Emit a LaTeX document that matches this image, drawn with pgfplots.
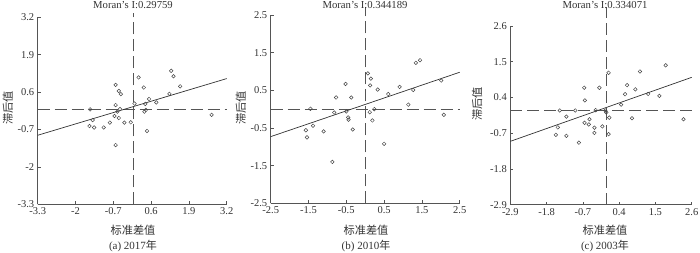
\documentclass[border=0pt]{standalone}
\usepackage{pgfplots}
\pgfplotsset{compat=1.18}
\usepackage{fontspec}
\setmainfont{Liberation Serif}
\newfontfamily\cjk{Noto Sans CJK SC}
\definecolor{axc}{HTML}{555555}
\definecolor{txc}{HTML}{333333}
\definecolor{mkc}{HTML}{444444}
\pgfplotsset{
  moran/.style={
    scale only axis, anchor=south west,
    axis x line*=bottom, axis y line*=left,
    axis line style={axc, line width=0.6bp},
    tick align=inside, major tick length=3bp,
    tick style={axc, line width=0.6bp},
    ticklabel style={font=\fontsize{10.5bp}{12bp}\selectfont, text=txc},
    xtick pos=bottom, ytick pos=left,
    clip=false,
  },
  pts/.style={only marks, mark=o, mark size=1.8bp, mark options={mkc, line width=0.5bp}},
  reg/.style={txc, line width=0.7bp, no marks},
  dsh/.style={axc, line width=0.8bp, dash pattern=on 12bp off 5bp, no marks},
}
\begin{document}
\begin{tikzpicture}[x=1bp,y=1bp]
\useasboundingbox (0,0) rectangle (700,252);
% ---------------- (a) 2017
\begin{axis}[moran, at={(37.7bp,47.7bp)}, width=189bp, height=187bp,
  xmin=-3.3, xmax=3.2, ymin=-3.3, ymax=3.2,
  xtick={-3.3,-2,-0.7,0.6,1.9,3.2}, xticklabels={-3.3,-2,-0.7,0.6,1.9,3.2},
  ytick={-3.3,-2,-0.7,0.6,1.9,3.2}, yticklabels={-3.3,-2,-0.7,0.6,1.9,3.2}]
\addplot[dsh] coordinates {(-3.3,0) (3.2,0)};
\addplot[dsh] coordinates {(0,-3.3) (0,3.35)};
\addplot[reg] coordinates {(-3.3,-0.90) (3.2,1.07)};
\addplot[pts] coordinates {
(-1.50,0.00) (-1.41,-0.37) (-1.52,-0.58) (-1.36,-0.63) (-1.03,-0.63)
(-0.82,-0.46) (-0.62,0.85) (-0.62,0.15) (-0.66,-0.23) (-0.56,-0.08)
(-0.51,0.64) (-0.44,0.53) (-0.47,0.01) (-0.51,-0.30) (-0.32,-0.46)
(-0.10,-0.45) (-0.62,-1.24) (0.03,0.20) (0.17,1.11) (0.35,0.76)
(0.40,0.19) (0.42,-0.02) (0.37,-0.08) (0.46,-0.75) (0.53,0.36)
(0.78,0.24) (1.23,0.54) (1.29,1.34) (1.37,1.15) (1.60,0.80) (2.68,-0.19)};
\end{axis}
% ---------------- (b) 2010
\begin{axis}[moran, at={(270.7bp,48.7bp)}, width=189bp, height=188.3bp,
  xmin=-2.5, xmax=2.5, ymin=-2.5, ymax=2.5,
  xtick={-2.5,-1.5,-0.5,0.5,1.5,2.5}, xticklabels={-2.5,-1.5,-0.5,0.5,1.5,2.5},
  ytick={-2.5,-1.5,-0.5,0.5,1.5,2.5}, yticklabels={-2.5,-1.5,-0.5,0.5,1.5,2.5}]
\addplot[dsh] coordinates {(-2.5,0) (2.5,0)};
\addplot[dsh] coordinates {(0,-2.5) (0,2.72)};
\addplot[reg] coordinates {(-2.5,-0.73) (2.5,0.98)};
\addplot[pts] coordinates {
(-1.45,0.01) (-1.57,-0.56) (-1.54,-0.75) (-1.38,-0.44) (-1.10,-0.59)
(-0.82,-0.09) (-0.77,0.31) (-0.87,-1.40) (-0.52,0.67) (-0.50,-0.06)
(-0.45,-0.22) (-0.44,-0.28) (-0.37,0.31) (-0.33,-0.54) (0.07,0.95)
(0.15,0.81) (0.13,0.63) (0.12,-0.08) (0.19,-0.30) (0.24,0.00)
(0.33,0.52) (0.50,-0.92) (0.61,0.40) (0.91,0.59) (1.14,0.12)
(1.27,0.51) (1.34,1.23) (1.45,1.30) (2.01,0.76) (2.08,-0.15)};
\end{axis}
% ---------------- (c) 2003
\begin{axis}[moran, at={(510.3bp,47.3bp)}, width=181.4bp, height=178.7bp,
  xmin=-2.9, xmax=2.6, ymin=-2.9, ymax=2.6,
  xtick={-2.9,-1.8,-0.7,0.4,1.5,2.6}, xticklabels={-2.9,-1.8,-0.7,0.4,1.5,2.6},
  ytick={-2.9,-1.8,-0.7,0.4,1.5,2.6}, yticklabels={-2.9,-1.8,-0.7,0.4,1.5,2.6}]
\addplot[dsh] coordinates {(-2.9,0) (2.6,0)};
\addplot[dsh] coordinates {(0,-2.9) (0,3.2)};
\addplot[reg] coordinates {(-2.9,-0.95) (2.6,1.02)};
\addplot[pts] coordinates {
(-1.52,-0.75) (-1.46,-0.52) (-1.40,0.00) (-1.20,-0.19) (-1.20,-0.78)
(-0.93,0.00) (-0.82,-0.99) (-0.66,0.70) (-0.64,0.31) (-0.65,-0.38)
(-0.52,-0.43) (-0.50,-0.27) (-0.35,-0.53) (-0.35,-0.69) (-0.31,0.01)
(-0.20,0.70) (-0.11,-0.49) (-0.02,0.00) (0.01,-0.06) (0.08,1.16)
(0.10,-0.22) (0.08,-0.73) (0.46,0.18) (0.58,0.50) (0.64,0.78)
(0.79,-0.24) (0.89,0.65) (1.03,1.20) (1.28,0.51) (1.62,0.45)
(1.81,1.39) (2.35,-0.27)};
\end{axis}
% ---------------- text
\begin{scope}[every node/.style={text=txc, inner sep=0pt}]
\node[font=\fontsize{10.7bp}{12bp}\selectfont] at (133,247) {Moran's I:0.29759};
\node[font=\fontsize{10.7bp}{12bp}\selectfont] at (365,247) {Moran's I:0.344189};
\node[font=\fontsize{10.7bp}{12bp}\selectfont] at (605,247) {Moran's I:0.334071};
\node[rotate=90, font=\cjk\fontsize{11.2bp}{12bp}\selectfont] at (8,144) {滞后值};
\node[rotate=90, font=\cjk\fontsize{11.2bp}{12bp}\selectfont] at (241,144) {滞后值};
\node[rotate=90, font=\cjk\fontsize{11.2bp}{12bp}\selectfont] at (477,148) {滞后值};
\node[font=\cjk\fontsize{11.2bp}{12bp}\selectfont] at (133,22) {标准差值};
\node[font=\cjk\fontsize{11.2bp}{12bp}\selectfont] at (366,22) {标准差值};
\node[font=\cjk\fontsize{11.2bp}{12bp}\selectfont] at (605,22) {标准差值};
\node[font=\fontsize{11bp}{12bp}\selectfont] at (133,6) {(a) 2017{\cjk 年}};
\node[font=\fontsize{11bp}{12bp}\selectfont] at (366,6) {(b) 2010{\cjk 年}};
\node[font=\fontsize{11bp}{12bp}\selectfont] at (605,6) {(c) 2003{\cjk 年}};
\end{scope}
\end{tikzpicture}
\end{document}
